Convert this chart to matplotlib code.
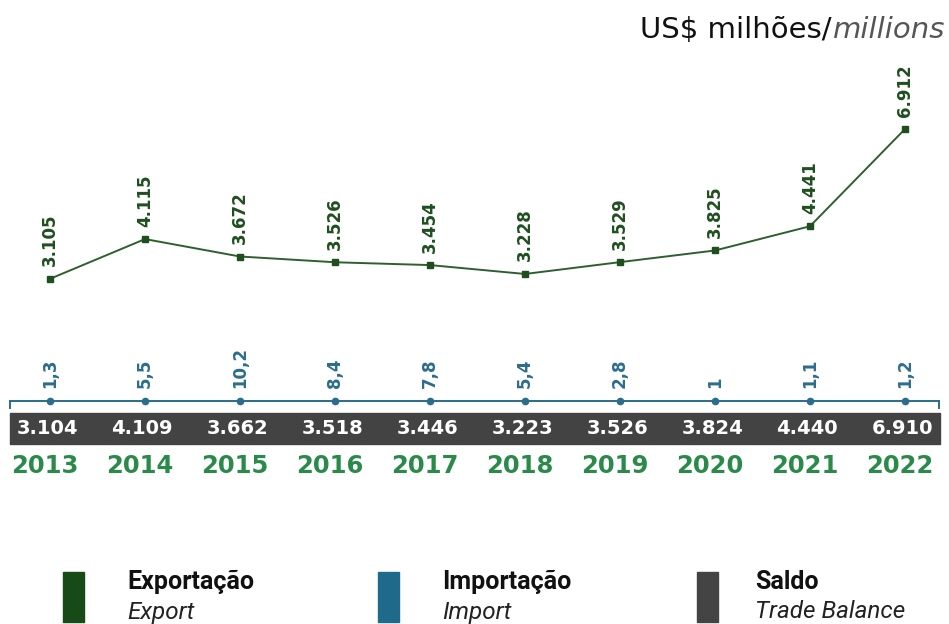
import matplotlib
matplotlib.use('Agg')
from matplotlib import pyplot as plt
from matplotlib.patches import Rectangle
import matplotlib.transforms as mtransforms

years = [2013, 2014, 2015, 2016, 2017, 2018, 2019, 2020, 2021, 2022]
exports = [3105, 4115, 3672, 3526, 3454, 3228, 3529, 3825, 4441, 6912]
imports = [1.3, 5.5, 10.2, 8.4, 7.8, 5.4, 2.8, 1.0, 1.1, 1.2]
balance = [3104, 4109, 3662, 3518, 3446, 3223, 3526, 3824, 4440, 6910]
import_labels = ['1,3', '5,5', '10,2', '8,4', '7,8', '5,4', '2,8', '1', '1,1', '1,2']

green_line = '#2f5f2f'
green_text = '#1f4f1f'
green_year = '#2a8a4a'
blue = '#2b6d8c'
dark = '#434343'

W, H = 949, 624
fig = plt.figure(figsize=(W / 100, H / 100), dpi=100)
ax = fig.add_axes([0, 0, 1, 1])
ax.set_xlim(2013 - 50 / 95, 2013 + 899 / 95)
ax.set_ylim(-(624 - 401) / 0.03935, 401 / 0.03935)
ax.axis('off')


def fy(py):
    # pixel from top -> figure fraction
    return 1 - py / H


def fx(px):
    return px / W


def fmt(v):
    return f'{v:,}'.replace(',', '.')


# export line
ax.plot(years, exports, color=green_line, lw=1.4, marker='s', ms=4,
        mfc=green_text, mec=green_text, zorder=3)
for x, v in zip(years, exports):
    ax.annotate(fmt(v), (x, v), xytext=(0, 9), textcoords='offset points',
                rotation=90, ha='center', va='bottom', color=green_text,
                fontsize=12, fontweight='bold', family='DejaVu Sans')

# import line + baseline
x_lo = 2013 - 40 / 95
x_hi = 2013 + 889 / 95
ax.plot([x_lo, x_hi], [0, 0], color=blue, lw=1.4, zorder=2)
ax.plot([x_lo, x_lo], [0, -7 / 0.03935], color=blue, lw=1.4)
ax.plot([x_hi, x_hi], [0, -7 / 0.03935], color=blue, lw=1.4)
ax.plot(years, imports, color=blue, lw=1.4, marker='o', ms=4.5, ls='none', zorder=3)
for x, v, lab in zip(years, imports, import_labels):
    ax.annotate(lab, (x, v), xytext=(0, 9), textcoords='offset points',
                rotation=90, ha='center', va='bottom', color=blue,
                fontsize=12, fontweight='bold', family='DejaVu Sans')

# balance band
ax.add_patch(Rectangle((fx(10), fy(444)), fx(930), 31 / H,
                       transform=fig.transFigure, color=dark, zorder=1))
trans = mtransforms.blended_transform_factory(ax.transData, fig.transFigure)
for x, v in zip(years, balance):
    ax.text(x - 0.03, fy(429), fmt(v), transform=trans, ha='center', va='center',
            color='white', fontsize=14, fontweight='bold', family='DejaVu Sans',
            zorder=4)
for x in years:
    ax.text(x - 0.05, fy(466), str(x), transform=trans, ha='center', va='center',
            color=green_year, fontsize=17.5, fontweight='bold', family='DejaVu Sans')

# title
t1 = fig.text(fx(945), fy(30), 'millions', ha='right', va='center', color='#555555',
              fontsize=21, style='italic', family='DejaVu Sans')
fig.canvas.draw()
bb = t1.get_window_extent()
fig.text((bb.x0 - 1) / W, fy(30), 'US$ milhões/', ha='right', va='center',
         color='#111111', fontsize=21, family='DejaVu Sans')

# legend
legend_items = [('Exportação', 'Export', '#174a17', 63, 127),
                ('Importação', 'Import', '#1f6a8a', 378, 442),
                ('Saldo', 'Trade Balance', '#444444', 697, 755)]
for pt, en, col, sx, tx in legend_items:
    fig.patches.append(Rectangle((fx(sx), fy(622)), fx(21), 50 / H,
                                 transform=fig.transFigure, color=col))
    fig.text(fx(tx), fy(582), pt, ha='left', va='center', fontsize=18,
             fontweight='bold', family='Roboto', color='#111111')
    fig.text(fx(tx), fy(612), en, ha='left', va='center', fontsize=17.5,
             style='italic', family='Roboto', color='#222222')

plt.savefig('out.png', dpi=100)
